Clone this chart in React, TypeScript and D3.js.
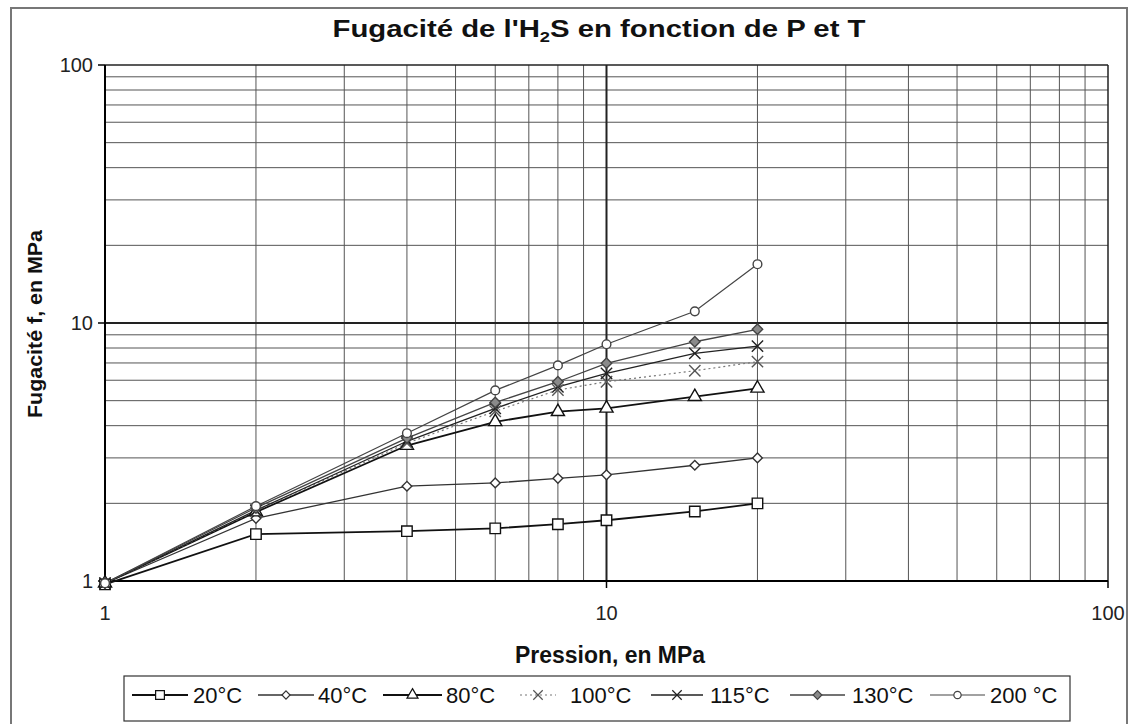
import React from 'react';
import * as d3 from 'd3';

// pressions (MPa)
const pressions = [1, 2, 4, 6, 8, 10, 15, 20];

// fugacité, une liste par température
const f20 = [0.97, 1.52, 1.56, 1.6, 1.66, 1.72, 1.86, 2.0];
const f40 = [0.98, 1.75, 2.33, 2.4, 2.5, 2.58, 2.81, 3.0];
const f80 = [0.98, 1.85, 3.35, 4.14, 4.53, 4.67, 5.18, 5.58];
const f100 = [0.98, 1.87, 3.42, 4.55, 5.5, 5.92, 6.53, 7.08];
const f115 = [0.98, 1.88, 3.48, 4.67, 5.66, 6.38, 7.63, 8.14];
const f130 = [0.98, 1.92, 3.58, 4.92, 5.92, 6.98, 8.46, 9.45];
const f200 = [0.98, 1.95, 3.74, 5.48, 6.85, 8.27, 11.1, 16.9];

const labels = ['20°C', '40°C', '80°C', '100°C', '115°C', '130°C', '200 °C'];
const tickValues = [1, 10, 100];

const W = 1137;
const H = 724;
const FONT = "'Liberation Sans', Arial, sans-serif";

const x = d3.scaleLog().domain([1, 100]).range([105, 1108]);
const y = d3.scaleLog().domain([1, 100]).range([581, 65]);

const series = [
  { name: labels[0], values: f20, symbol: d3.symbolSquare, size: 110, fill: '#fff', stroke: '#111', width: 1.8, dash: '' },
  { name: labels[1], values: f40, symbol: d3.symbolDiamond2, size: 60, fill: '#fff', stroke: '#333', width: 1.3, dash: '' },
  { name: labels[2], values: f80, symbol: d3.symbolTriangle, size: 75, fill: '#fff', stroke: '#111', width: 1.8, dash: '' },
  { name: labels[3], values: f100, symbol: d3.symbolTimes, size: 85, fill: 'none', stroke: '#777', width: 1.2, dash: '2,3' },
  { name: labels[4], values: f115, symbol: d3.symbolTimes, size: 85, fill: 'none', stroke: '#222', width: 1.3, dash: '' },
  { name: labels[5], values: f130, symbol: d3.symbolDiamond2, size: 70, fill: '#8a8a8a', stroke: '#444', width: 1.3, dash: '' },
  { name: labels[6], values: f200, symbol: d3.symbolCircle, size: 60, fill: '#fff', stroke: '#444', width: 1.2, dash: '' },
];

// positions de la légende (ligne début, fin, texte)
const legendX = [
  [132, 188, 193],
  [258, 314, 318],
  [383, 442, 446],
  [520, 556, 570],
  [651, 703, 710],
  [790, 845, 852],
  [930, 985, 990],
];

const minorTicks = (lo: number, hi: number) => {
  const out: number[] = [];
  for (let d = lo; d < hi; d *= 10) {
    for (let k = 2; k <= 9; k++) out.push(d * k);
  }
  return out;
};

export default function App() {
  const line = d3
    .line<[number, number]>()
    .x((d) => x(d[0]))
    .y((d) => y(d[1]));

  const minor = minorTicks(1, 100);
  const [x0, x1] = x.range();
  const [y0, y1] = y.range();

  return (
    <svg
      width={W}
      height={H}
      style={{ position: 'absolute', left: 0, top: 0, background: '#fff' }}
      fontFamily={FONT}
    >
      {/* cadre du graphique */}
      <rect x={11} y={8} width={1116} height={730} fill="#fff" stroke="#777" strokeWidth={2} />

      {/* titre */}
      <text x={599} y={37} textAnchor="middle" fontSize={24} fontWeight="bold" fill="#111" textLength={533} lengthAdjust="spacingAndGlyphs">
        Fugacité de l'H<tspan dy={5} fontSize={15}>2</tspan>
        <tspan dy={-5}>S en fonction de P et T</tspan>
      </text>

      {/* grille mineure */}
      {minor.map((v) => (
        <line key={'vx' + v} x1={x(v)} x2={x(v)} y1={y0} y2={y1} stroke="#555" strokeWidth={1} />
      ))}
      {minor.map((v) => (
        <line key={'hy' + v} x1={x0} x2={x1} y1={y(v)} y2={y(v)} stroke="#555" strokeWidth={1} />
      ))}
      {/* grille majeure */}
      {tickValues.map((v) => (
        <line key={'VX' + v} x1={x(v)} x2={x(v)} y1={y0} y2={y1} stroke="#222" strokeWidth={v === 10 ? 2 : 1.5} />
      ))}
      {tickValues.map((v) => (
        <line key={'HY' + v} x1={x0} x2={x1} y1={y(v)} y2={y(v)} stroke="#222" strokeWidth={v === 10 ? 2 : 1.5} />
      ))}

      {/* axes */}
      <line x1={x0} x2={x0} y1={y0} y2={y1} stroke="#000" strokeWidth={2} />
      <line x1={x0} x2={x1} y1={y0} y2={y0} stroke="#000" strokeWidth={2} />
      {tickValues.map((v) => (
        <g key={'ty' + v}>
          <line x1={x0 - 7} x2={x0} y1={y(v)} y2={y(v)} stroke="#000" strokeWidth={1.5} />
          <text x={93} y={y(v) + 7} textAnchor="end" fontSize={20} fill="#222">
            {v}
          </text>
        </g>
      ))}
      {tickValues.map((v) => (
        <g key={'tx' + v}>
          <line x1={x(v)} x2={x(v)} y1={y0} y2={y0 + 7} stroke="#000" strokeWidth={1.5} />
          <text x={x(v)} y={620} textAnchor="middle" fontSize={20} fill="#222">
            {v}
          </text>
        </g>
      ))}

      {/* titres des axes */}
      <text x={610} y={663} textAnchor="middle" fontSize={23} fontWeight="bold" fill="#111" textLength={190} lengthAdjust="spacingAndGlyphs">
        Pression, en MPa
      </text>
      <text
        transform={`translate(42,324) rotate(-90)`}
        textAnchor="middle"
        fontSize={21}
        fontWeight="bold"
        fill="#111"
        textLength={188}
        lengthAdjust="spacingAndGlyphs"
      >
        Fugacité f, en MPa
      </text>

      {/* séries */}
      {series.map((s) => (
        <path
          key={'l' + s.name}
          d={line(pressions.map((p, i) => [p, s.values[i]]) as [number, number][]) || ''}
          fill="none"
          stroke={s.stroke}
          strokeWidth={s.width}
          strokeDasharray={s.dash || undefined}
        />
      ))}
      {series.map((s) =>
        pressions.map((p, i) => (
          <path
            key={'m' + s.name + p}
            transform={`translate(${x(p)},${y(s.values[i])})`}
            d={d3.symbol().type(s.symbol).size(s.size)() || ''}
            fill={s.fill}
            stroke={s.dash ? '#555' : s.stroke}
            strokeWidth={1.4}
          />
        ))
      )}

      {/* légende */}
      <rect x={124} y={676} width={946} height={45} fill="#fff" stroke="#333" strokeWidth={1.2} />
      {series.map((s, i) => {
        const [a, b, t] = legendX[i];
        const cy = 695;
        return (
          <g key={'lg' + s.name}>
            <line x1={a} x2={b} y1={cy} y2={cy} stroke={s.stroke} strokeWidth={s.width} strokeDasharray={s.dash || undefined} />
            <path
              transform={`translate(${(a + b) / 2},${cy})`}
              d={d3.symbol().type(s.symbol).size(s.size * 0.7)() || ''}
              fill={s.fill}
              stroke={s.dash ? '#555' : s.stroke}
              strokeWidth={1.2}
            />
            <text x={t} y={cy + 8} fontSize={22} fill="#111">
              {s.name}
            </text>
          </g>
        );
      })}
    </svg>
  );
}
